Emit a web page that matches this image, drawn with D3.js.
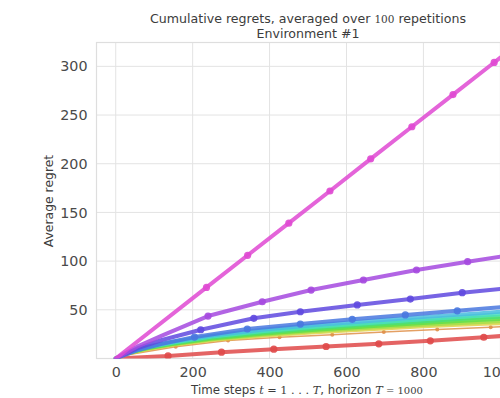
<!DOCTYPE html>
<html><head><meta charset="utf-8">
<script src="https://cdn.jsdelivr.net/npm/d3@7"></script>
<style>body{margin:0;background:#fff}svg{display:block}text{font-family:"DejaVu Sans",sans-serif}</style>
</head><body><svg id="c" width="500" height="398"></svg>
<script>
// ---- data ----
const xTicks = [0, 200, 400, 600, 800, 1000];
const yTicks = [50, 100, 150, 200, 250, 300];
const hues = [0, 28, 55, 83, 111, 138, 166, 194, 221, 249, 277, 305];

const xsRed = [0, 136, 275, 411, 547, 684, 818, 957, 1000];
const ysRed = [0, 2.6, 6.5, 9.6, 12.3, 15.1, 18.2, 21.8, 23];
const xsOrange = [0, 20, 156, 292, 426, 563, 697, 836, 975, 1000];
const ysOrange = [0, 3, 12, 18.5, 21.8, 24.4, 27.2, 29.8, 32, 32.5];
const xsBand = [0, 30, 80, 150, 250, 380, 520, 660, 800, 940, 1000];
const ysYellow = [0, 5, 9.5, 14, 19, 23.3, 27, 30, 33, 35.5, 36.3];
const ysLime = [0, 5, 10, 14.5, 19.7, 24.3, 28.2, 31.5, 34.6, 37.3, 38.3];
const ysGreen = [0, 5.5, 10.5, 15, 20.5, 25.5, 29.5, 33, 36.4, 39.5, 40.5];
const ysSea = [0, 5.5, 11, 15.8, 21.5, 26.8, 31, 34.8, 38.3, 41.8, 43];
const ysTeal = [0, 6, 11.5, 16.5, 22.5, 28, 32.5, 36.5, 40.2, 44, 45.5];
const ysCyan = [0, 6, 12, 17.5, 23.5, 29.5, 34.5, 38.5, 42.5, 46.3, 48];
const xsBlue = [0, 60, 120, 205, 342, 480, 615, 753, 888, 1000];
const ysBlue = [0, 9, 15, 22, 30.3, 35.4, 40.2, 44.7, 49, 52.6];
const xsIndigo = [0, 60, 120, 221, 359, 480, 628, 766, 901, 1000];
const ysIndigo = [0, 11, 19, 29.5, 41.3, 48, 55, 61, 67.6, 71.4];
const xsPurple = [0, 60, 120, 240, 381, 508, 644, 782, 915, 1000];
const ysPurple = [0, 13, 23.5, 43.6, 58.3, 70.3, 80.6, 90.9, 99.4, 104.5];
const xsMagenta = [0, 236, 343, 450, 557, 663, 770, 877, 984, 1000];
const ysMagenta = [0, 73, 106, 139, 172, 205, 238, 271, 304, 309];

const series = [
  {xs: xsOrange, ys: ysOrange, h: hues[1], marks: [2,3,4,5,6,7,8], thin: true},
  {xs: xsRed, ys: ysRed, h: hues[0], marks: [1,2,3,4,5,6,7]},
  {xs: xsBand, ys: ysYellow, h: hues[2], marks: []},
  {xs: xsBand, ys: ysLime, h: hues[3], marks: []},
  {xs: xsBand, ys: ysGreen, h: hues[4], marks: []},
  {xs: xsBand, ys: ysSea, h: hues[5], marks: []},
  {xs: xsBand, ys: ysTeal, h: hues[6], marks: []},
  {xs: xsBand, ys: ysCyan, h: hues[7], marks: []},
  {xs: xsBlue, ys: ysBlue, h: hues[8], marks: [3,4,5,6,7,8]},
  {xs: xsIndigo, ys: ysIndigo, h: hues[9], marks: [3,4,5,6,7,8]},
  {xs: xsPurple, ys: ysPurple, h: hues[10], marks: [3,4,5,6,7,8]},
  {xs: xsMagenta, ys: ysMagenta, h: hues[11], marks: [1,2,3,4,5,6,7,8]}
];

// ---- drawing ----
const svg = d3.select("#c");
const L = 96.5, T = 42.5, B = 358.5, R = 96.5 + 1100 * 0.3846;
const x = d3.scaleLinear().domain([-50, 1050]).range([L, R]);
const y = d3.scaleLinear().domain([0, 324.5]).range([B, T]);

svg.append("defs").append("clipPath").attr("id", "clip")
  .append("rect").attr("x", L).attr("y", T).attr("width", R - L).attr("height", B - T);

const grid = svg.append("g");
xTicks.forEach(t => grid.append("line").attr("x1", x(t)).attr("x2", x(t)).attr("y1", T).attr("y2", B)
  .attr("stroke", "#e3e3e3").attr("stroke-width", 1));
yTicks.forEach(t => grid.append("line").attr("x1", L).attr("x2", R).attr("y1", y(t)).attr("y2", y(t))
  .attr("stroke", "#e3e3e3").attr("stroke-width", 1));
svg.append("rect").attr("x", L).attr("y", T).attr("width", R - L).attr("height", B - T)
  .attr("fill", "none").attr("stroke", "#dedede").attr("stroke-width", 1.2);

const xAxis = d3.axisBottom(x).tickValues(xTicks).tickSize(0).tickPadding(0).tickFormat(d3.format("d"));
const gx = svg.append("g").attr("transform", `translate(0,${B + 8})`).call(xAxis);
gx.select(".domain").remove();
gx.selectAll("text").attr("font-size", "14.3px").attr("fill", "#4a4a4a").attr("dy", "0.71em");

const yAxis = d3.axisLeft(y).tickValues(yTicks).tickSize(0).tickPadding(0).tickFormat(d3.format("d"));
const gy = svg.append("g").attr("transform", `translate(${L - 9},0)`).call(yAxis);
gy.select(".domain").remove();
gy.selectAll("text").attr("font-size", "14.3px").attr("fill", "#4a4a4a");

const plot = svg.append("g").attr("clip-path", "url(#clip)");
const line = d3.line();
series.forEach(s => {
  const col = d3.hsl(s.h, 0.7, 0.58).formatHex();
  const pts = s.xs.map((v, i) => [x(v), y(s.ys[i])]);
  plot.append("path").attr("d", line(pts)).attr("fill", "none").attr("stroke", col)
    .attr("stroke-width", s.thin ? 1.5 : 4).attr("stroke-opacity", 0.85).attr("stroke-linejoin", "round").attr("stroke-linecap", "round");
  s.marks.forEach(i => plot.append("circle").attr("cx", x(s.xs[i])).attr("cy", y(s.ys[i]))
    .attr("r", s.thin ? 2 : 3.6).attr("fill", col).attr("fill-opacity", 0.9));
});

// ---- texts ----
const tc = (L + R) / 2;
const t1 = svg.append("text").attr("x", tc).attr("y", 23).attr("text-anchor", "middle")
  .attr("font-size", "12.6px").attr("fill", "#3c3c3c");
t1.append("tspan").text("Cumulative regrets, averaged over ");
t1.append("tspan").attr("font-family", "DejaVu Serif").attr("font-size", "10.5px").text("100");
t1.append("tspan").text(" repetitions");
svg.append("text").attr("x", tc).attr("y", 37.5).attr("text-anchor", "middle")
  .attr("font-size", "12.6px").attr("fill", "#3c3c3c").text("Environment #1");

const xl = svg.append("text").attr("x", 307).attr("y", 394).attr("text-anchor", "middle")
  .attr("font-size", "11.8px").attr("fill", "#3c3c3c");
const mth = (s) => xl.append("tspan").attr("font-family", "DejaVu Serif").attr("font-style", "italic").attr("font-size", "11.3px").text(s);
xl.append("tspan").text("Time steps ");
mth("t");
xl.append("tspan").attr("font-family", "DejaVu Serif").attr("font-size", "11.3px").text(" = 1 . . . ");
mth("T");
xl.append("tspan").text(", horizon ");
mth("T");
xl.append("tspan").attr("font-family", "DejaVu Serif").attr("font-size", "10px").text(" = 1000");

svg.append("text").attr("transform", `translate(53,201) rotate(-90)`).attr("text-anchor", "middle")
  .attr("font-size", "12.4px").attr("fill", "#3c3c3c").text("Average regret");
</script></body></html>
